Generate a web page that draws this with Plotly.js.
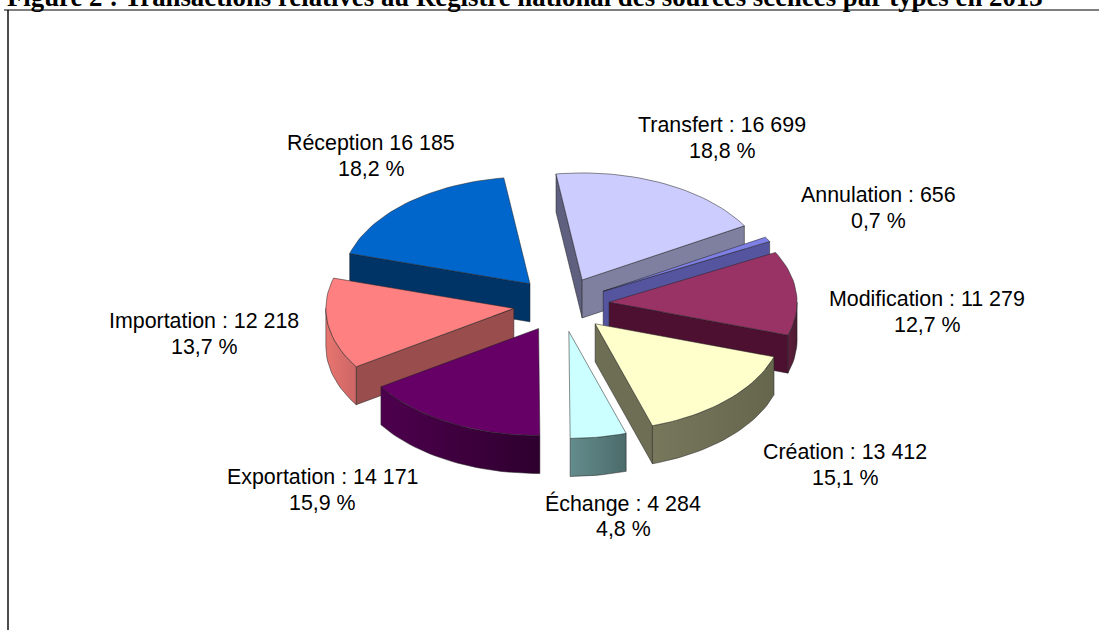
<!DOCTYPE html>
<html>
<head>
<meta charset="utf-8">
<script src="https://cdn.plot.ly/plotly-3.0.1.min.js"></script>
<style>html,body{margin:0;padding:0;background:#fff}#chart{width:1099px;height:630px}</style>
</head>
<body>
<div id="chart"></div>
<script>
var categories = ["Transfert :", "Annulation :", "Modification :", "Création :", "Échange :", "Exportation :", "Importation :", "Réception"];
var values = [16699, 656, 11279, 13412, 4284, 14171, 12218, 16185];
var valueLabels = ["16 699", "656", "11 279", "13 412", "4 284", "14 171", "12 218", "16 185"];
var percentLabels = ["18,8 %", "0,7 %", "12,7 %", "15,1 %", "4,8 %", "15,9 %", "13,7 %", "18,2 %"];

var topColors = ["#CCCCFF", "#7F80E6", "#993366", "#FFFFCC", "#CCFFFF", "#660066", "#FF8080", "#0066CC"];
var rimColorsLeft = ["#7F7F9F", "#4C4C99", "#5C1F3D", "#77775C", "#648C8C", "#4D004D", "#E8756F", "#003366"];
var rimColorsRight = ["#7F7F9F", "#4C4C99", "#4D1A33", "#66664D", "#4C6B6B", "#2E002E", "#CC6666", "#003366"];
var startSideColors = ["#5F5F80", "#4C4C99", "#4D1030", "#6E6E55", "#5F8080", "#330033", "#994D4D", "#003366"];
var endSideColors = ["#7F7F9F", "#55559F", "#4D1030", "#6E6E55", "#5F8080", "#330033", "#994D4D", "#003366"];

var labelX = [722, 878, 927, 845, 623, 322, 204, 371];
var labelY = [138, 208, 312, 465, 516, 490, 334, 156];

// Projection of the tilted pie on the page (axes run in page units)
var cx = 561.3, cy = 304.5, rx = 188, ry = 107, depth = 38, pullFrac = 0.255, startDeg = -8;
var total = values.reduce(function (a, b) { return a + b; }, 0);
var rad = Math.PI / 180;

function proj(ox, oy, deg, r) {
  return [ox + rx * r * Math.sin(deg * rad), oy - ry * r * Math.cos(deg * rad)];
}
function poly(points, fill, extra) {
  var t = {
    type: "scatter", mode: "lines", fill: "toself", fillcolor: fill,
    x: points.map(function (p) { return p[0]; }),
    y: points.map(function (p) { return p[1]; }),
    line: { color: "rgba(35,35,35,0.65)", width: 0.8 },
    hoverinfo: "skip", showlegend: false
  };
  if (extra) { for (var k in extra) t[k] = extra[k]; }
  return t;
}
function arc(ox, oy, a, b) {
  var pts = [], n = Math.max(2, Math.ceil(Math.abs(b - a) / 2));
  for (var i = 0; i <= n; i++) pts.push(proj(ox, oy, a + (b - a) * i / n, 1));
  return pts;
}
function down(pts) { return pts.map(function (p) { return [p[0], p[1] + depth]; }); }

var slices = [], angle = startDeg;
values.forEach(function (v, i) {
  var sweep = 360 * v / total, a = angle, b = angle + sweep, mid = (a + b) / 2;
  var apex = proj(cx, cy, mid, pullFrac);
  slices.push({ i: i, a: a, b: b, ox: apex[0], oy: apex[1] });
  angle = b;
});
slices.sort(function (s, t) { return s.oy - t.oy; });

var traces = [];
slices.forEach(function (s) {
  var o = [s.ox, s.oy], o2 = [s.ox, s.oy + depth], i = s.i;
  // radial side faces facing the viewer
  if (Math.sin(s.a * rad) < -0.001) {
    var p = proj(s.ox, s.oy, s.a, 1);
    traces.push(poly([o, p, [p[0], p[1] + depth], o2, o], startSideColors[i]));
  }
  if (Math.sin(s.b * rad) > 0.02) {
    var q = proj(s.ox, s.oy, s.b, 1);
    traces.push(poly([o, q, [q[0], q[1] + depth], o2, o], endSideColors[i]));
  }
  // outer rim: the part of the arc on the near half of the ellipse
  var ra = Math.max(s.a, 90), rb = Math.min(s.b, 270);
  if (rb > ra) {
    var up = arc(s.ox, s.oy, ra, rb);
    var lo = down(up).reverse();
    var rim = up.concat(lo, [up[0]]);
    traces.push(poly(rim, rimColorsRight[i], {
      fillgradient: { type: "horizontal", colorscale: [[0, rimColorsLeft[i]], [1, rimColorsRight[i]]] }
    }));
  }
  // top face
  var top = [o].concat(arc(s.ox, s.oy, s.a, s.b), [o]);
  traces.push(poly(top, topColors[i]));
});

var annotations = [{
  xref: "x", yref: "y", x: 5, y: 0, yshift: 3, xanchor: "left", yanchor: "middle", showarrow: false,
  text: "<b>Figure 2 : Transactions relatives au Registre national des sources scellées par types en 2013</b>",
  font: { family: "Liberation Serif", size: 26.8, color: "#000" }
}];
categories.forEach(function (c, i) {
  var f = { family: "Liberation Sans", size: 21.4, color: "#000" };
  annotations.push({ xref: "x", yref: "y", x: labelX[i], y: labelY[i] - 13, xanchor: "center", yanchor: "middle",
    showarrow: false, text: c + " " + valueLabels[i], font: f });
  annotations.push({ xref: "x", yref: "y", x: labelX[i], y: labelY[i] + 13, xanchor: "center", yanchor: "middle",
    showarrow: false, text: percentLabels[i], font: f });
});

var layout = {
  width: 1099, height: 630,
  margin: { l: 0, r: 0, t: 0, b: 0 },
  paper_bgcolor: "#fff", plot_bgcolor: "#fff",
  xaxis: { range: [0, 1099], visible: false, fixedrange: true },
  yaxis: { range: [630, 0], visible: false, fixedrange: true },
  showlegend: false,
  annotations: annotations,
  shapes: [
    { type: "line", xref: "x", yref: "y", x0: 4, x1: 1099, y0: 10, y1: 10, line: { color: "#555", width: 1.6 } },
    { type: "line", xref: "x", yref: "y", x0: 8, x1: 8, y0: 10, y1: 630, line: { color: "#000", width: 1.4 } }
  ]
};
Plotly.newPlot("chart", traces, layout, { displayModeBar: false, staticPlot: true });
</script>
</body>
</html>
